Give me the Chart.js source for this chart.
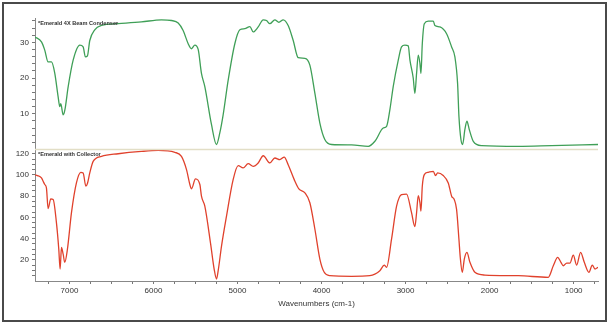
<!DOCTYPE html>
<html>
<head>
<meta charset="utf-8">
<script src="https://cdn.jsdelivr.net/npm/chart.js@4.4.1/dist/chart.umd.min.js"></script>
<style>
  html, body { margin: 0; padding: 0; background: #fff; }
  #wrap { width: 610px; height: 326px; position: relative; }
</style>
</head>
<body>
<div id="wrap"><canvas id="irChart"></canvas></div>
<script>
// --- DATA ---
const xMin = 710;
const xMax = 7410;
const xTickValues = [7250, 7000, 6750, 6500, 6250, 6000, 5750, 5500, 5250, 5000, 4750, 4500, 4250, 4000,
    3750, 3500, 3250, 3000, 2750, 2500, 2250, 2000, 1750, 1500, 1250, 1000, 750];
const topTickValues = [2, 4, 6, 8, 10, 12, 14, 16, 18, 20, 22, 24, 26, 28, 30, 32, 34, 36];
const bottomTickValues = [5, 10, 15, 20, 25, 30, 35, 40, 45, 50, 55, 60, 65, 70, 75, 80, 85, 90, 95, 100, 105, 110, 115, 120];

const topLabel = '*Emerald 4X Beam Condenser';
const bottomLabel = '*Emerald with Collector';
const xTitle = 'Wavenumbers (cm-1)';

// top panel (green)
const condenserWavenumbers = [7410, 7333, 7294, 7254, 7214, 7175, 7135, 7115, 7103, 7075, 7055, 7015, 6956, 6877,
    6837, 6810, 6786, 6758, 6699, 6619, 6420, 6143, 5905, 5786, 5706, 5647, 5587, 5548, 5508, 5468, 5429,
    5389, 5310, 5250, 5210, 5171, 5111, 5032, 4972, 4913, 4853, 4813, 4754, 4694, 4655, 4615, 4556, 4508,
    4456, 4397, 4337, 4278, 4198, 4139, 4079, 4020, 3961, 3881, 3643, 3444, 3365, 3266, 3226, 3187, 3147,
    3087, 3048, 3008, 2968, 2948, 2909, 2889, 2869, 2849, 2829, 2817, 2801, 2777, 2730, 2670, 2651, 2591,
    2512, 2452, 2413, 2381, 2365, 2341, 2321, 2294, 2270, 2242, 2194, 2095, 1659, 1262, 710];
const condenserValues = [31.5, 30.1, 27.8, 24.5, 24.5, 21.4, 14.8, 12.0, 12.8, 9.7, 11.0, 17.6, 25.0, 29.2,
    28.7, 25.9, 26.2, 30.5, 33.5, 34.7, 35.2, 35.7, 36.3, 36.1, 35.4, 33.3, 29.6, 28.2, 29.2, 28.0, 21.3,
    17.6, 7.0, 1.4, 4.7, 9.7, 19.4, 29.6, 33.5, 33.8, 34.4, 32.9, 34.3, 36.3, 36.1, 35.2, 36.3, 35.6,
    36.3, 34.7, 30.5, 25.7, 25.5, 23.6, 15.7, 7.4, 2.8, 1.4, 1.3, 0.9, 2.3, 6.0, 6.5, 11.1, 17.6,
    25.0, 28.7, 29.2, 29.0, 25.0, 20.0, 15.7, 21.3, 26.4, 24.1, 21.3, 29.6, 35.2, 35.9, 35.9, 34.7, 34.3,
    32.4, 28.7, 25.9, 18.5, 9.3, 2.8, 1.4, 5.6, 7.9, 5.6, 2.3, 1.1, 0.9, 1.1, 1.4];

// bottom panel (red)
const collectorWavenumbers = [7410, 7381, 7333, 7313, 7294, 7274, 7254, 7222, 7194, 7155, 7127, 7111, 7095, 7075,
    7056, 7024, 6976, 6917, 6865, 6837, 6805, 6786, 6758, 6718, 6619, 6420, 6143, 5944, 5746, 5667, 5607,
    5567, 5548, 5500, 5448, 5429, 5389, 5320, 5278, 5250, 5230, 5190, 5131, 5052, 4992, 4933, 4873, 4813,
    4754, 4694, 4615, 4556, 4496, 4444, 4397, 4325, 4270, 4198, 4139, 4079, 4020, 3968, 3901, 3643, 3425,
    3306, 3254, 3226, 3167, 3107, 3048, 2988, 2929, 2889, 2869, 2849, 2829, 2817, 2801, 2777, 2730, 2670,
    2643, 2619, 2552, 2492, 2452, 2421, 2393, 2365, 2349, 2325, 2301, 2270, 2234, 2175, 2056, 1659, 1302,
    1242, 1190, 1151, 1123, 1083, 1044, 1004, 964, 917, 873, 818, 778, 746, 710];
const collectorValues = [100, 99.4, 97.2, 94, 91, 87.9, 68.2, 77.5, 76.9, 55, 30, 11.3, 31.6, 25.3,
    17.6, 30, 64.4, 92.5, 102.5, 101.9, 89.5, 92, 101.9, 112.8, 117.5, 120, 122.2, 123.1, 121.3, 117.5, 105,
    91, 86.9, 96.3, 91, 80, 70.6, 35, 11.3, 1.9, 9.7, 33.1, 61.2, 95.6, 108.8, 106.6, 110.6, 108.1,
    111.3, 118.1, 111.3, 116, 114.4, 116.9, 109.7, 95.6, 86.9, 83.2, 73.8, 48.8, 20.7, 8.2, 5, 4.4, 5,
    9.7, 15, 12.9, 39.4, 70.6, 81.5, 82, 64.4, 51.3, 64.4, 80.6, 73.8, 65.9, 89.4, 100.3, 102.5, 103.4,
    99.4, 101.9, 99.4, 92.5, 80, 76.9, 67.5, 39.4, 22.2, 8.2, 20.7, 27, 17.6, 8.2, 5.6, 5, 3.5,
    14.4, 22.2, 17.6, 14.4, 16.9, 16.9, 24.4, 15, 27, 17.6, 8.2, 15, 11.3, 12.9];

const toPoints = (xs, ys) => xs.map((x, i) => ({ x: x, y: ys[i] }));

// --- frame, divider and panel captions ---
const framePlugin = {
    id: 'frame',
    afterDraw(chart) {
        const ctx = chart.ctx;
        const area = chart.chartArea;
        const yTop = chart.scales.yTop;
        const yBot = chart.scales.yBot;
        ctx.save();

        // divider between the two panels
        ctx.strokeStyle = '#e2dec6';
        ctx.lineWidth = 1.5;
        ctx.beginPath();
        ctx.moveTo(area.left, yBot.top);
        ctx.lineTo(area.right, yBot.top);
        ctx.stroke();

        // panel captions
        ctx.fillStyle = '#333';
        ctx.font = 'bold 5.6px Arial, "Liberation Sans", sans-serif';
        ctx.textBaseline = 'middle';
        ctx.textAlign = 'left';
        ctx.fillText(topLabel, area.left + 3, yTop.top + 5);
        ctx.fillText(bottomLabel, area.left + 3, yBot.top + 4.5);

        // outer box
        ctx.strokeStyle = '#4a4a4a';
        ctx.lineWidth = 2;
        ctx.strokeRect(3, 3, 603, 318);
        ctx.restore();
    }
};

const tickFont = { size: 8, family: 'Arial, "Liberation Sans", sans-serif' };

function yAxis(tickValues, labelStep, max) {
    return {
        type: 'linear',
        position: 'left',
        stack: 'panels',
        stackWeight: 1,
        min: 0,
        max: max,
        afterBuildTicks: (s) => { s.ticks = tickValues.map(v => ({ value: v })); },
        afterFit: (s) => { s.width = 35; },
        ticks: {
            autoSkip: false,
            padding: 3,
            color: '#333',
            font: tickFont,
            callback: (v) => (v % labelStep === 0 ? v : '')
        },
        grid: { drawOnChartArea: false, tickLength: 3, color: '#777', lineWidth: 1 },
        border: { color: '#888', width: 1 }
    };
}

new Chart(document.getElementById('irChart'), {
    type: 'line',
    data: {
        datasets: [
            {
                label: topLabel,
                data: toPoints(condenserWavenumbers, condenserValues),
                yAxisID: 'yTop',
                borderColor: '#3f9f57',
                borderWidth: 1.3,
                pointRadius: 0,
                cubicInterpolationMode: 'monotone',
                fill: false
            },
            {
                label: bottomLabel,
                data: toPoints(collectorWavenumbers, collectorValues),
                yAxisID: 'yBot',
                borderColor: '#e0412c',
                borderWidth: 1.3,
                pointRadius: 0,
                cubicInterpolationMode: 'monotone',
                fill: false
            }
        ]
    },
    options: {
        responsive: true,
        maintainAspectRatio: false,
        animation: false,
        layout: { padding: { top: 18, right: 12, left: 0, bottom: 0 } },
        plugins: {
            legend: { display: false },
            tooltip: { enabled: false }
        },
        scales: {
            x: {
                type: 'linear',
                position: 'bottom',
                reverse: true,
                min: xMin,
                max: xMax,
                afterBuildTicks: (s) => { s.ticks = xTickValues.map(v => ({ value: v })); },
                afterFit: (s) => { s.height = 45; },
                ticks: {
                    autoSkip: false,
                    maxRotation: 0,
                    padding: 2,
                    color: '#333',
                    font: tickFont,
                    callback: (v) => (v % 1000 === 0 ? v : '')
                },
                grid: { drawOnChartArea: false, tickLength: 3, color: '#777' },
                border: { color: '#888', width: 1 },
                title: {
                    display: true,
                    text: xTitle,
                    color: '#333',
                    font: tickFont,
                    padding: { top: 0, bottom: 17 }
                }
            },
            // stacked axes are laid out bottom-up in definition order
            yBot: yAxis(bottomTickValues, 20, 124),
            yTop: yAxis(topTickValues, 10, 36.8)
        }
    },
    plugins: [framePlugin]
});
</script>
</body>
</html>
